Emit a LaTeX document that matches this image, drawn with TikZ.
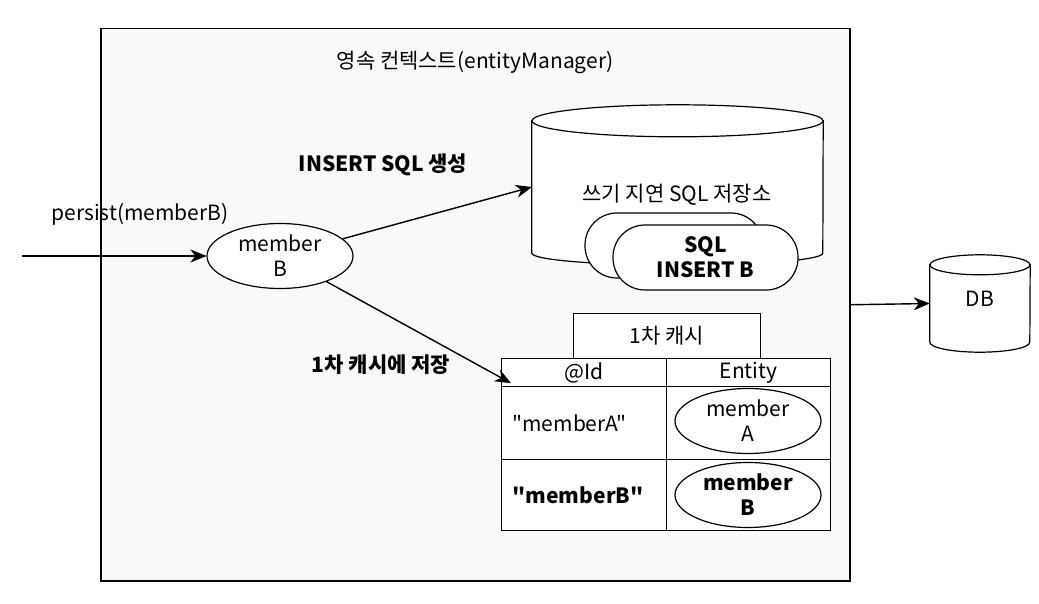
\documentclass[tikz,border=0pt]{standalone}
\usepackage{fontspec}
\setmainfont{Noto Sans CJK KR}[Ligatures=TeXOff]
\usetikzlibrary{calc}
\usetikzlibrary{positioning}
\usetikzlibrary{shapes.geometric}
\usetikzlibrary{arrows.meta}
\tikzset{
    every node/.style={
        font=\fontsize{21}{25}\selectfont, % 字号
        align=center
    },
    boldtext/.style={
        font=\fontsize{21}{25}\selectfont\bfseries
    },
    myarrow/.style={
        line width=1.4pt,
        -{Stealth[length=16pt, width=13pt, inset=5pt]}
    },
    myellipse/.style={
        ellipse,       % 椭圆
        draw,
        line width=1.2pt,
        fill=white,
        inner sep=0pt,
        minimum width=146pt,
        minimum height=65pt
    },
    mypill/.style={
        draw,
        line width=1.2pt,
        fill=white,
        rounded corners=32pt,
        minimum height=65pt
    },
    mycell/.style={
        draw,
        line width=1.2pt,
        fill=white,
        inner sep=0pt,
        anchor=north west
    }
}

\begin{document}
\begin{tikzpicture}[x=1pt, y=-1pt]

\def\ry{16}
\def\dbry{10}
\useasboundingbox (0,0) rectangle (1039,604);

% 外框
\node[draw, line width=1.5pt, fill=gray!5, minimum width=749pt, minimum height=552pt,
      inner sep=0pt, anchor=north west] (ctx) at (100,28) {};
\node (ctxTitle) at (475,62) {영속 컨텍스트(entityManager)};

% 定义点
\coordinate (in) at (22,256);

\node[myellipse] (mB) at (280,256) {member\\B};
\node (persistLbl) at (140,214) {persist(memberB)};

% 存储
\node[minimum width=291pt, minimum height=132pt, inner sep=0pt] (store) at (677.5,187) {};
\draw[line width=1.2pt, fill=white] (store.north west) -- (store.south west)
    arc[start angle=180, end angle=0, x radius=145.5, y radius=12]
    -- (store.north east) -- cycle;
\draw[line width=1.2pt, fill=white] (store.north) ellipse[x radius=145.5, y radius=\ry];
\node (storeLbl) at (677,195) {쓰기 지연 SQL 저장소};

\node[mypill, minimum width=178pt] (sqlA) at (674,245.5) {};
\node[mypill, boldtext, minimum width=185pt] (sqlB) at (705.5,257.5) {SQL\\INSERT B};

% 缓存
\node[mycell, minimum width=187pt, minimum height=45pt] (cacheTitle) at (573,313) {};
\node (cacheLbl) at (cacheTitle.center) {1차 캐시};

\node[mycell, minimum width=165pt, minimum height=28pt] (headId) at (501,358) {};
\node[mycell, minimum width=164pt, minimum height=28pt] (headEnt) at (666,358) {};
\node (idLbl) at (headId.center) {@Id};
\node (entLbl) at (headEnt.center) {Entity};

\node[mycell, minimum width=165pt, minimum height=73pt] (idA) at (501,386) {};
\node[mycell, minimum width=164pt, minimum height=73pt] (entA) at (666,386) {};
\node[mycell, minimum width=165pt, minimum height=71pt] (idB) at (501,459) {};
\node[mycell, minimum width=164pt, minimum height=71pt] (entB) at (666,459) {};

\node[anchor=west] (idAtxt) at ([xshift=8pt]idA.west) {"memberA"};
\node[anchor=west, boldtext] (idBtxt) at ([xshift=8pt]idB.west) {"memberB"};
\node[myellipse] (memA) at (748,421) {member\\A};
\node[myellipse, boldtext] (memB) at (748,495) {member\\B};

% DB
\node[minimum width=100pt, minimum height=77pt, inner sep=0pt] (db) at (980,303.5) {};
\draw[line width=1.2pt, fill=white] (db.north west) -- (db.south west)
    arc[start angle=180, end angle=0, x radius=50, y radius=\dbry]
    -- (db.north east) -- cycle;
\draw[line width=1.2pt, fill=white] (db.north) ellipse[x radius=50, y radius=\dbry];
\node (dbLbl) at ([yshift=5pt]db.center) {DB};

% 箭头
\draw[myarrow] (in) -- (mB.west);
\draw[myarrow] (mB) -- (store.west);
\node[boldtext] (insertLbl) at (383,165) {INSERT SQL 생성};
\draw[myarrow] (mB) -- ([shift={(10,-4)}]headId.south west);
\node[boldtext] (saveLbl) at (381,365) {1차 캐시에 저장};
\draw[myarrow] (ctx.east) -- (db.west);

\end{tikzpicture}
\end{document}
